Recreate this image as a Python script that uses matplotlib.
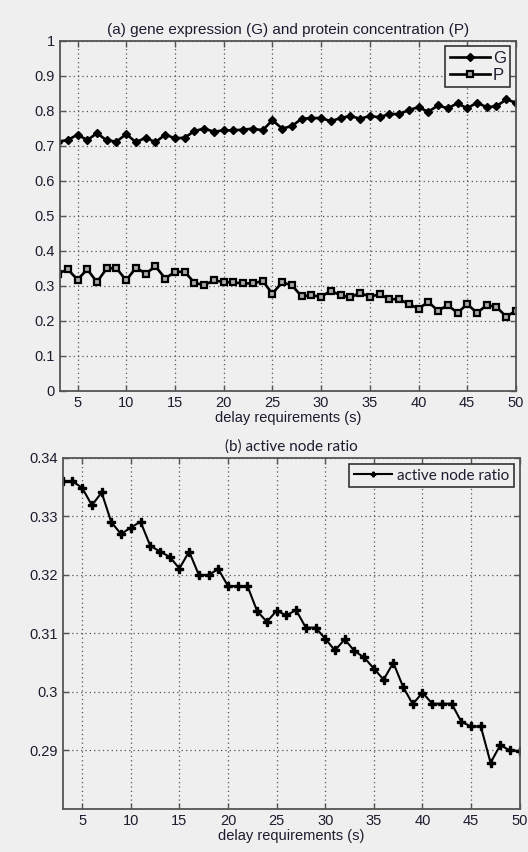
import matplotlib
matplotlib.use("Agg")
import matplotlib.pyplot as plt
import numpy as np

# ---- data ----
delay = list(range(3, 51))

gene_G = [0.712, 0.716, 0.732, 0.716, 0.736, 0.715, 0.712, 0.733, 0.710, 0.723,
          0.710, 0.732, 0.721, 0.723, 0.742, 0.749, 0.740, 0.744, 0.744, 0.746,
          0.749, 0.744, 0.773, 0.749, 0.756, 0.777, 0.779, 0.779, 0.770, 0.779,
          0.785, 0.777, 0.785, 0.781, 0.791, 0.790, 0.802, 0.810, 0.797, 0.815,
          0.807, 0.821, 0.807, 0.823, 0.810, 0.813, 0.832, 0.823]

protein_P = [0.335, 0.347, 0.318, 0.347, 0.311, 0.350, 0.350, 0.316, 0.352, 0.335,
             0.356, 0.321, 0.340, 0.340, 0.309, 0.302, 0.316, 0.311, 0.310, 0.307,
             0.307, 0.314, 0.278, 0.310, 0.302, 0.270, 0.273, 0.269, 0.286, 0.273,
             0.267, 0.280, 0.269, 0.276, 0.262, 0.262, 0.248, 0.235, 0.254, 0.229,
             0.245, 0.223, 0.248, 0.223, 0.245, 0.240, 0.212, 0.229]

active_ratio = [0.3360, 0.3360, 0.3349, 0.3319, 0.3341, 0.3290, 0.3270, 0.3281, 0.3291, 0.3250,
                0.3240, 0.3231, 0.3211, 0.3240, 0.3200, 0.3200, 0.3210, 0.3181, 0.3181, 0.3181,
                0.3138, 0.3120, 0.3139, 0.3131, 0.3140, 0.3110, 0.3110, 0.3091, 0.3071, 0.3090,
                0.3070, 0.3059, 0.3040, 0.3021, 0.3050, 0.3009, 0.2979, 0.2999, 0.2980, 0.2980,
                0.2980, 0.2949, 0.2941, 0.2941, 0.2879, 0.2909, 0.2900, 0.2899]

x_ticks = [5, 10, 15, 20, 25, 30, 35, 40, 45, 50]
top_yticks = [0, 0.1, 0.2, 0.3, 0.4, 0.5, 0.6, 0.7, 0.8, 0.9, 1]
top_yticklabels = ['0', '0.1', '0.2', '0.3', '0.4', '0.5', '0.6', '0.7', '0.8', '0.9', '1']
bot_yticks = [0.29, 0.30, 0.31, 0.32, 0.33, 0.34]
bot_yticklabels = ['0.29', '0.3', '0.31', '0.32', '0.33', '0.34']

title_a = "(a) gene expression (G) and protein concentration (P)"
title_b = "(b) active node ratio"
xlabel = "delay requirements (s)"

# ---- style ----
BG = '#efefef'
TXT = '#1c1c2e'
plt.rcParams['font.family'] = ['Liberation Sans', 'DejaVu Sans']

fig = plt.figure(figsize=(5.28, 8.52), dpi=100, facecolor=BG)
ax1 = fig.add_axes([0.1136, 0.5411, 0.8636, 0.4112])
ax2 = fig.add_axes([0.1188, 0.0505, 0.8655, 0.4120])


def style_axes(ax):
    ax.set_facecolor(BG)
    for s in ax.spines.values():
        s.set_color('#555555')
        s.set_linewidth(1.3)
    ax.tick_params(direction='in', top=True, right=True, length=4,
                   width=1.0, color='#555555', labelsize=10.5, labelcolor=TXT)
    ax.grid(True, linestyle=(0, (1, 2.5)), color='#555555', linewidth=0.9)
    ax.set_axisbelow(True)


# top panel
style_axes(ax1)
ax1.plot(delay, gene_G, '-D', color='black', lw=1.9, ms=4.5, mfc='black', mec='black', label='G')
ax1.plot(delay, protein_P, '-s', color='black', lw=1.9, ms=5, mfc='#aaaaaa', mec='black', mew=1.6, label='P')
ax1.set_xlim(3.2, 50)
ax1.set_ylim(0, 1)
ax1.set_xticks(x_ticks)
ax1.set_yticks(top_yticks)
ax1.set_yticklabels(top_yticklabels)
ax1.set_title(title_a, fontsize=11, color=TXT, pad=5)
ax1.set_xlabel(xlabel, fontsize=10.5, color=TXT, labelpad=1)
leg1 = ax1.legend(loc='upper right', fontsize=12, frameon=True, fancybox=False,
                  edgecolor='#333333', facecolor=BG, framealpha=1, handlelength=2.4,
                  handletextpad=0.2, borderpad=0.25, labelspacing=0.15, borderaxespad=0.35)
leg1.get_frame().set_linewidth(1.2)
for t in leg1.get_texts():
    t.set_color(TXT)

# bottom panel
style_axes(ax2)
ax2.plot(delay, active_ratio, '-P', color='black', lw=1.5, ms=5.5, mfc='black', mec='black',
         label='active node ratio')
ax2.set_xlim(3, 50)
ax2.set_ylim(0.28, 0.34)
ax2.set_xticks(x_ticks)
ax2.set_yticks(bot_yticks)
ax2.set_yticklabels(bot_yticklabels)
ax2.set_title(title_b, fontsize=11, color=TXT, pad=5, family=['Lato', 'DejaVu Sans'])
ax2.set_xlabel(xlabel, fontsize=10.5, color=TXT, labelpad=1)
leg2 = ax2.legend(loc='upper right', prop={'family': ['Lato', 'DejaVu Sans'], 'size': 11},
                  frameon=True, fancybox=False, edgecolor='#333333', facecolor=BG,
                  framealpha=1, handlelength=2.5, handletextpad=0.3, borderpad=0.3,
                  borderaxespad=0.4, markerscale=0.6)
leg2.get_frame().set_linewidth(1.2)
for t in leg2.get_texts():
    t.set_color(TXT)

fig.savefig('out.png', dpi=100, facecolor=BG)
